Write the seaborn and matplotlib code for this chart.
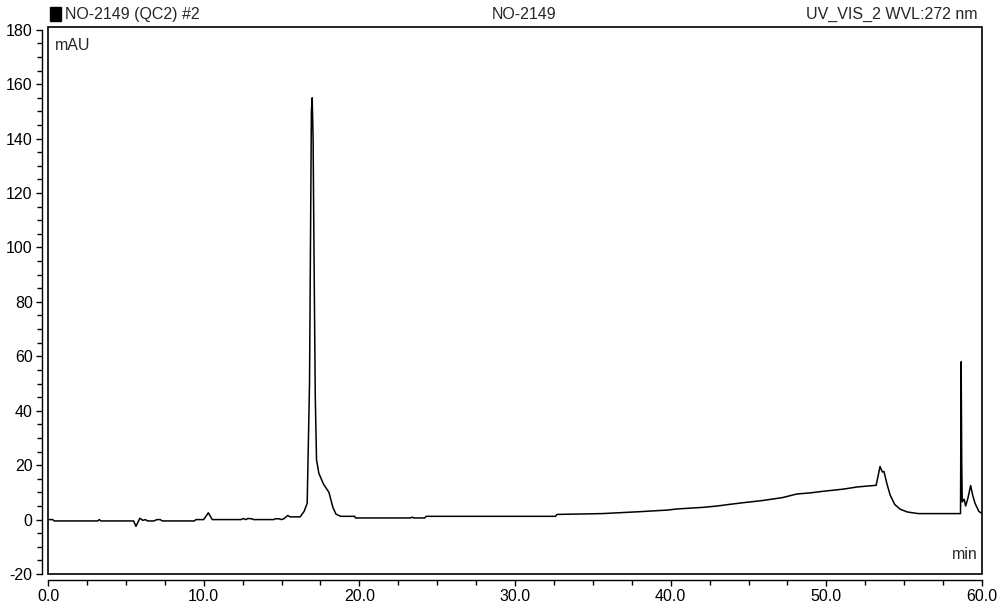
import matplotlib
matplotlib.use("Agg")
import matplotlib.pyplot as plt
from matplotlib.patches import Rectangle
from matplotlib.ticker import MultipleLocator, FormatStrFormatter
import seaborn as sns
import pandas as pd

# Chromatogram trace: retention time (min) and detector response (mAU)
time_min = [
    0.0, 0.3, 0.4, 3.2, 3.3, 3.4, 5.5, 5.65, 5.9, 6.1, 6.25, 6.4, 6.8, 7.0, 7.2, 7.35,
    9.4, 9.5, 10.0, 10.3, 10.55, 12.4, 12.55, 12.7, 12.85, 13.1, 13.2, 14.5, 14.6, 14.85,
    15.0, 15.15, 15.4, 15.55, 16.2, 16.45, 16.65, 16.8, 16.92, 16.97, 17.03, 17.1, 17.17,
    17.25, 17.4, 17.7, 18.05, 18.3, 18.5, 18.8, 19.7, 19.75, 23.3, 23.4, 23.5, 24.2,
    24.3, 32.6, 32.7, 35.6, 38.0, 39.8, 40.4, 42.1, 43.0, 43.8, 44.65, 45.9, 47.2, 48.1,
    48.95, 49.8, 51.1, 52.0, 53.2, 53.45, 53.6, 53.7, 53.9, 54.1, 54.4, 54.75, 55.2,
    55.9, 58.62, 58.66, 58.7, 58.73, 58.85, 58.95, 59.1, 59.27, 59.4, 59.55, 59.8, 60.0,
]
absorbance_mau = [
    0.0, 0.0, -0.5, -0.5, 0.0, -0.5, -0.5, -2.5, 0.5, -0.3, 0.0, -0.5, -0.5, 0.0, 0.0, -0.5,
    -0.5, 0.0, 0.0, 2.5, 0.0, 0.0, 0.4, 0.0, 0.4, 0.3, 0.0, 0.0, 0.3, 0.3,
    0.0, 0.3, 1.5, 1.0, 1.0, 3.0, 6.0, 50.0, 150.0, 155.0, 140.0, 90.0, 45.0,
    22.0, 17.0, 13.0, 10.0, 4.5, 2.0, 1.2, 1.2, 0.6, 0.6, 0.9, 0.6, 0.6,
    1.2, 1.2, 1.9, 2.2, 2.9, 3.5, 3.9, 4.5, 5.0, 5.6, 6.2, 7.0, 8.1, 9.4,
    9.8, 10.4, 11.2, 12.0, 12.6, 19.5, 17.5, 17.7, 13.0, 9.0, 5.5, 3.8, 2.8,
    2.2, 2.2, 58.0, 20.0, 6.5, 7.5, 5.0, 8.0, 12.5, 9.0, 6.0, 3.0, 2.2,
]

sample_name = "NO-2149 (QC2) #2"
sample_id = "NO-2149"
channel = "UV_VIS_2 WVL:272 nm"
y_unit = "mAU"
x_unit = "min"

sns.set_theme(style="white")
plt.rcParams["font.family"] = ["Liberation Sans", "DejaVu Sans"]

df = pd.DataFrame({"time": time_min, "signal": absorbance_mau})

fig = plt.figure(figsize=(10, 6.13), dpi=100)
ax = fig.add_axes([0.048, 0.0636, 0.934, 0.8923])

sns.lineplot(data=df, x="time", y="signal", ax=ax, color="black",
             linewidth=1.1, estimator=None, sort=False)

ax.set_xlim(0, 60)
ax.set_ylim(-20, 181)
ax.set_xlabel("")
ax.set_ylabel("")

# Offset axis lines carrying the ticks
for side in ("left", "bottom"):
    ax.spines[side].set_position(("outward", 4.5))
    ax.spines[side].set_color("black")
    ax.spines[side].set_linewidth(1.0)
ax.spines["left"].set_bounds(-20, 180)
ax.spines["bottom"].set_bounds(0, 60)
ax.spines["top"].set_visible(False)
ax.spines["right"].set_visible(False)

# Plot frame
ax.add_patch(Rectangle((0, 0), 1, 1, transform=ax.transAxes, fill=False,
                       edgecolor="black", linewidth=1.2, clip_on=False, zorder=5))

ax.xaxis.set_major_locator(MultipleLocator(10))
ax.xaxis.set_minor_locator(MultipleLocator(2.5))
ax.yaxis.set_major_locator(MultipleLocator(20))
ax.yaxis.set_minor_locator(MultipleLocator(5))
ax.xaxis.set_major_formatter(FormatStrFormatter("%.1f"))
ax.yaxis.set_major_formatter(FormatStrFormatter("%d"))
ax.tick_params(axis="both", which="major", direction="out", length=4.5, width=1.0,
               colors="black", labelsize=11.5, pad=2, bottom=True, left=True)
ax.tick_params(axis="both", which="minor", direction="out", length=3.5, width=1.0,
               colors="black", bottom=True, left=True)

ax.text(0.0075, 0.967, y_unit, transform=ax.transAxes, ha="left", va="center",
        fontsize=11.5)
ax.text(0.995, 0.035, x_unit, transform=ax.transAxes, ha="right", va="center",
        fontsize=11.5)

# Header line
fig.patches.append(Rectangle((0.050, 0.966), 0.011, 0.023, transform=fig.transFigure,
                             facecolor="black", edgecolor="black", figure=fig))
fig.text(0.065, 0.977, sample_name, ha="left", va="center", fontsize=11.5)
fig.text(0.524, 0.977, sample_id, ha="center", va="center", fontsize=11.5)
fig.text(0.977, 0.977, channel, ha="right", va="center", fontsize=11.5)

fig.savefig("out.png", dpi=100, facecolor="white")
